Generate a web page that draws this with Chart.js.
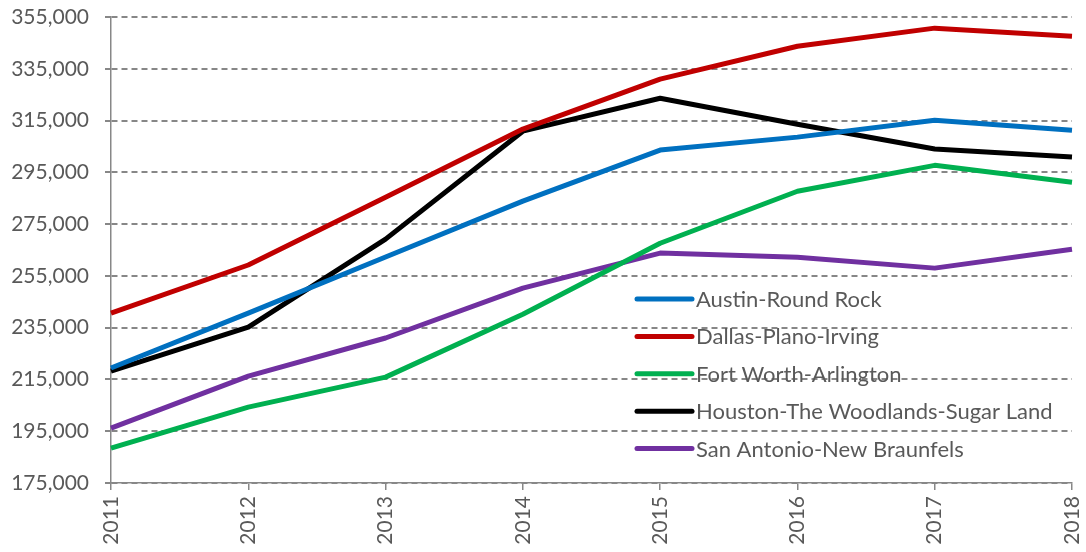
<!DOCTYPE html>
<html>
<head>
<meta charset="utf-8">
<script src="https://cdn.jsdelivr.net/npm/chart.js@4/dist/chart.umd.min.js"></script>
<style>
  html, body { margin: 0; padding: 0; background: #fff; }
  #wrap { width: 1086px; height: 552px; }
</style>
</head>
<body>
<div id="wrap"><canvas id="c" width="1086" height="552"></canvas></div>
<script>
// median prices by metro, 2011-2018
const years = ['2011', '2012', '2013', '2014', '2015', '2016', '2017', '2018'];
const austin     = [219400, 240600, 262300, 283900, 303600, 308600, 315100, 311300];
const dallas     = [240600, 259200, 285400, 311700, 331000, 343700, 350700, 347600];
const fortWorth  = [188500, 204300, 215900, 240200, 267600, 287700, 297700, 291200];
const houston    = [218200, 235200, 269200, 310900, 323600, 313600, 304000, 300900];
const sanAntonio = [196200, 216300, 231000, 250300, 263800, 262200, 258000, 265300];
const seriesNames = ['Austin-Round Rock', 'Dallas-Plano-Irving', 'Fort Worth-Arlington',
                     'Houston-The Woodlands-Sugar Land', 'San Antonio-New Braunfels'];
const seriesColors = ['#0070C0', '#C00000', '#00B050', '#000000', '#7030A0'];
const yMin = 175000, yMax = 355000, yStep = 20000;

const txt = '#595959';
const axisGrey = '#878787';
const font = 'Lato, "Open Sans", sans-serif';

function mkSet(i, data) {
  return {
    label: seriesNames[i], data: data,
    borderColor: seriesColors[i], backgroundColor: seriesColors[i],
    borderWidth: 5, pointRadius: 0, tension: 0, fill: false,
    borderJoinStyle: 'round', borderCapStyle: 'butt'
  };
}

// drop the automatic label-overflow padding, the layout padding decides
function noPad(s) {
  s.paddingTop = 0; s.paddingBottom = 0; s.paddingLeft = 0; s.paddingRight = 0;
}

// legend drawn inside the plot, like the original
const insideLegend = {
  id: 'insideLegend',
  afterDatasetsDraw(chart) {
    const ctx = chart.ctx;
    const x0 = 637, y0 = 299, gap = 37.4;
    ctx.save();
    ctx.font = '22px ' + font;
    ctx.textBaseline = 'middle';
    chart.data.datasets.forEach((ds, i) => {
      const y = y0 + i * gap;
      ctx.strokeStyle = ds.borderColor;
      ctx.lineWidth = 5;
      ctx.lineCap = 'round';
      ctx.beginPath(); ctx.moveTo(x0, y); ctx.lineTo(x0 + 55, y); ctx.stroke();
      ctx.fillStyle = txt;
      ctx.fillText(ds.label, x0 + 59, y + 1);
    });
    ctx.restore();
  }
};

new Chart(document.getElementById('c'), {
  type: 'line',
  data: {
    labels: years,
    datasets: [mkSet(0, austin), mkSet(1, dallas), mkSet(2, fortWorth), mkSet(3, houston), mkSet(4, sanAntonio)]
  },
  options: {
    responsive: false,
    animation: false,
    layout: { padding: { top: 17, right: 14, left: 0, bottom: 0 } },
    plugins: { legend: { display: false }, tooltip: { enabled: false } },
    scales: {
      x: {
        offset: false,
        afterFit(s) { s.height = 69; noPad(s); },
        grid: { display: true, drawOnChartArea: false, drawTicks: true, tickLength: 7, color: axisGrey, lineWidth: 1.5 },
        border: { display: true, color: axisGrey, width: 1.5 },
        ticks: { color: txt, font: { family: font, size: 21 }, minRotation: 90, maxRotation: 90, padding: 6 }
      },
      y: {
        min: yMin, max: yMax,
        afterFit(s) { s.width = 111; noPad(s); },
        grid: { color: axisGrey, lineWidth: 2, drawTicks: true, tickLength: 6, tickBorderDash: [],
                tickColor: axisGrey },
        border: { display: true, color: axisGrey, width: 1.5, dash: [6, 4] },
        ticks: {
          stepSize: yStep, color: txt, padding: 16,
          font: { family: font, size: 21 },
          callback: v => v.toLocaleString('en-US')
        }
      }
    }
  },
  plugins: [insideLegend]
});
</script>
</body>
</html>
